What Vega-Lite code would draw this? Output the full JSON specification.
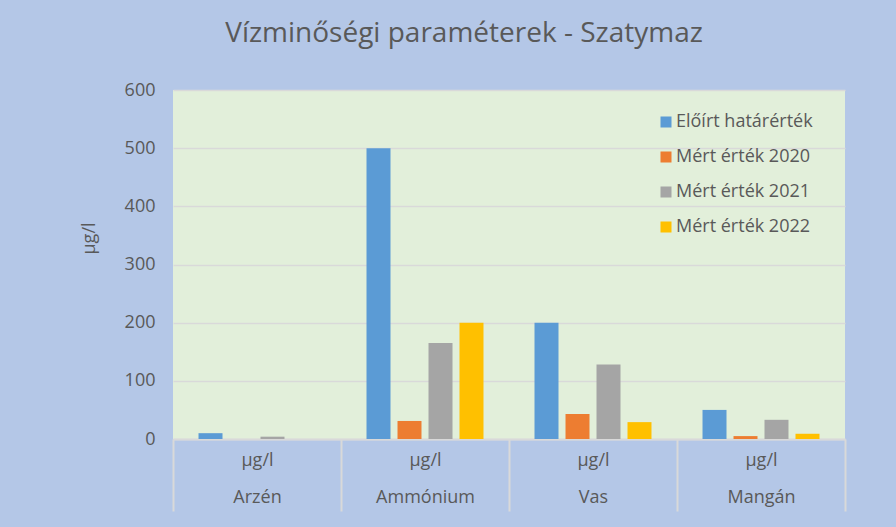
{
  "$schema": "https://vega.github.io/schema/vega-lite/v6.json",
  "width": 672,
  "height": 349,
  "autosize": {"type": "none"},
  "padding": {"left": 173, "top": 90, "right": 51, "bottom": 88},
  "background": "#b4c7e7",
  "title": {
    "text": "Vízminőségi paraméterek - Szatymaz",
    "font": "Open Sans",
    "fontSize": 28,
    "fontWeight": "normal",
    "color": "#595959",
    "anchor": "middle",
    "dx": -45,
    "offset": 33
  },
  "data": {
    "values": [
      {"param": "Arzén", "unit": "µg/l", "series": "Előírt határérték", "value": 10},
      {"param": "Arzén", "unit": "µg/l", "series": "Mért érték 2020", "value": 0},
      {"param": "Arzén", "unit": "µg/l", "series": "Mért érték 2021", "value": 4},
      {"param": "Arzén", "unit": "µg/l", "series": "Mért érték 2022", "value": 0},
      {"param": "Ammónium", "unit": "µg/l", "series": "Előírt határérték", "value": 500},
      {"param": "Ammónium", "unit": "µg/l", "series": "Mért érték 2020", "value": 31},
      {"param": "Ammónium", "unit": "µg/l", "series": "Mért érték 2021", "value": 165},
      {"param": "Ammónium", "unit": "µg/l", "series": "Mért érték 2022", "value": 200},
      {"param": "Vas", "unit": "µg/l", "series": "Előírt határérték", "value": 200},
      {"param": "Vas", "unit": "µg/l", "series": "Mért érték 2020", "value": 43},
      {"param": "Vas", "unit": "µg/l", "series": "Mért érték 2021", "value": 128},
      {"param": "Vas", "unit": "µg/l", "series": "Mért érték 2022", "value": 29},
      {"param": "Mangán", "unit": "µg/l", "series": "Előírt határérték", "value": 50},
      {"param": "Mangán", "unit": "µg/l", "series": "Mért érték 2020", "value": 5},
      {"param": "Mangán", "unit": "µg/l", "series": "Mért érték 2021", "value": 33},
      {"param": "Mangán", "unit": "µg/l", "series": "Mért érték 2022", "value": 9}
    ]
  },
  "mark": {"type": "bar"},
  "encoding": {
    "x": {
      "field": "param",
      "type": "nominal",
      "sort": ["Arzén", "Ammónium", "Vas", "Mangán"],
      "scale": {"paddingInner": 0, "paddingOuter": 0},
      "axis": {
        "title": null,
        "labelAngle": 0,
        "labelExpr": "datum.label ? ['µg/l', datum.label] : ''",
        "labelLineHeight": 37,
        "labelFontSize": 18,
        "labelFont": "Open Sans",
        "labelColor": "#595959",
        "labelPadding": -60,
        "tickBand": "extent",
        "tickSize": 72,
        "tickColor": "#d9d9d9",
        "tickWidth": 2,
        "domainColor": "#d9d9d9",
        "domainWidth": 2
      }
    },
    "xOffset": {
      "field": "series",
      "type": "nominal",
      "sort": ["Előírt határérték", "Mért érték 2020", "Mért érték 2021", "Mért érték 2022"],
      "scale": {"paddingInner": 0.226, "paddingOuter": 0.823}
    },
    "y": {
      "field": "value",
      "type": "quantitative",
      "scale": {"domain": [0, 600]},
      "axis": {
        "values": [0, 100, 200, 300, 400, 500, 600],
        "title": "µg/l",
        "titleFont": "Open Sans",
        "titleFontSize": 18,
        "titleFontWeight": "normal",
        "titleColor": "#595959",
        "titleX": -84,
        "titleY": 148,
        "titleAlign": "center",
        "titleBaseline": "middle",
        "labelFont": "Open Sans",
        "labelFontSize": 18,
        "labelColor": "#595959",
        "labelPadding": 18,
        "ticks": false,
        "domain": false,
        "grid": true,
        "gridColor": "#d9d9d9",
        "gridWidth": 1.5
      }
    },
    "color": {
      "field": "series",
      "type": "nominal",
      "scale": {
        "domain": ["Előírt határérték", "Mért érték 2020", "Mért érték 2021", "Mért érték 2022"],
        "range": ["#5b9bd5", "#ed7d31", "#a5a5a5", "#ffc000"]
      },
      "legend": {
        "orient": "none",
        "legendX": 484,
        "legendY": 23,
        "title": null,
        "symbolType": "square",
        "symbolSize": 121,
        "symbolStrokeWidth": 0,
        "symbolOpacity": 1,
        "labelFont": "Open Sans",
        "labelFontSize": 18,
        "labelColor": "#595959",
        "labelOffset": 1,
        "rowPadding": 17,
        "padding": 0
      }
    }
  },
  "config": {
    "view": {"fill": "#e2efda", "stroke": null}
  }
}
